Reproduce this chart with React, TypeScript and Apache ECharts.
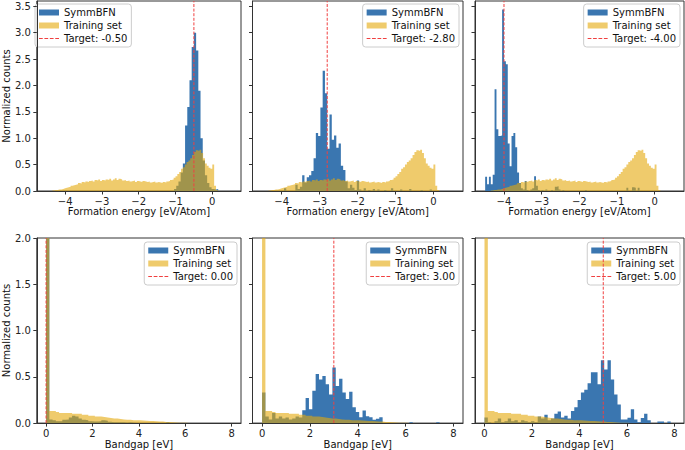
import React, { useEffect, useRef } from "react";
import * as echarts from "echarts";

// ---------- data ----------
const feTargets = [-0.5, -2.8, -4.0];
const bgTargets = [0, 3, 5];

const feTicks = [-4, -3, -2, -1, 0];
const bgTicks = [0, 2, 4, 6, 8];
const feYTicks = [0, 0.5, 1, 1.5, 2, 2.5, 3, 3.5];
const bgYTicks = [0, 0.5, 1, 1.5, 2];

// training set, formation energy (shared by top row)
const feTrainStart = -4.35;
const feTrainWidth = 0.05;
const feTrain = [
  0.01, 0.02, 0.02, 0.03, 0.03, 0.04, 0.05,
  0.06, 0.07, 0.08, 0.10, 0.11, 0.12, 0.13, 0.15, 0.14, 0.17,
  0.16, 0.18, 0.17, 0.19, 0.20, 0.18, 0.21, 0.20, 0.22, 0.19,
  0.21, 0.20, 0.22, 0.21, 0.23, 0.20, 0.22, 0.24, 0.21, 0.23,
  0.22, 0.20, 0.21, 0.19, 0.20, 0.18, 0.19, 0.20, 0.17, 0.19,
  0.18, 0.17, 0.19, 0.18, 0.17, 0.18, 0.16, 0.17, 0.18, 0.16,
  0.17, 0.16, 0.15, 0.17, 0.16, 0.18, 0.19, 0.21, 0.22, 0.25,
  0.28, 0.32, 0.36, 0.42, 0.45, 0.50, 0.55, 0.58, 0.62, 0.68,
  0.74, 0.77, 0.76, 0.78, 0.72, 0.62, 0.52, 0.48, 0.44, 0.42,
  0.50, 0.10, 0.02,
];

// SymmBFN, formation energy
const fe1Start = -1.04;
const fe1Width = 0.06;
const fe1 = [0.04, 0.10, 0.18, 0.35, 0.52, 1.24, 1.59, 2.10, 2.73, 3.00, 2.66, 1.90, 1.00, 0.58, 0.30, 0.15, 0.07, 0.04, 0.03, 0.04];

const fe2Start = -3.94;
const fe2Width = 0.06;
const fe2 = [
  0.05, 0, 0, 0, 0, 0.12, 0.04, 0.08, 0.30, 0.16,
  0.26, 0.30, 0.38, 0.62, 1.10, 1.04, 1.58, 2.28, 1.85, 0.80,
  1.45, 0.97, 1.05, 0.82, 0.90, 0.48, 0.40, 0.18, 0.05, 0.12,
  0.06, 0.02, 0.20, 0.03, 0, 0.05, 0, 0.02, 0, 0.04,
  0, 0.03, 0, 0, 0.02, 0, 0, 0.05, 0, 0,
  0, 0.03, 0, 0, 0, 0.04, 0, 0, 0, 0,
  0.02, 0, 0, 0, 0.03, 0,
];

const fe3Start = -4.5;
const fe3Width = 0.05;
const fe3 = [
  0.27, 0.13, 0.27, 0.13, 0.31, 1.93, 1.17, 1.04, 1.05, 3.44,
  2.46, 2.40, 0.90, 0.47, 1.04, 1.10, 0.83, 0.35, 0.15, 0.05,
  0.03, 0.19, 0.02, 0, 0.03, 0.05, 0.28, 0.10, 0.02, 0,
  0.02, 0, 0.03, 0, 0, 0.02, 0, 0.08, 0.09, 0.03,
  0, 0.02, 0, 0, 0, 0, 0, 0, 0, 0,
  0, 0, 0, 0.02, 0, 0, 0, 0, 0, 0,
  0, 0, 0, 0, 0, 0, 0, 0, 0, 0,
  0, 0, 0, 0, 0, 0.06, 0, 0, 0.07, 0.06,
  0, 0.06,
];

// bandgap (bottom row), bins start at 0
const bgStart = 0;
const bgWidth = 0.14;
const bgTrain = [
  4.5, 0.13, 0.13, 0.12, 0.11, 0.11, 0.11, 0.11, 0.10, 0.10,
  0.10, 0.09, 0.09, 0.08, 0.08, 0.07, 0.07, 0.065, 0.06, 0.055,
  0.05, 0.05, 0.045, 0.04, 0.035, 0.035, 0.03, 0.03, 0.03, 0.028,
  0.026, 0.024, 0.022, 0.02, 0.018, 0.016, 0.013, 0.011, 0.009, 0.007,
  0.005, 0.004, 0.003, 0.002, 0.002, 0.001,
];
const bg1 = [
  6.0, 0.04, 0.03, 0.02, 0.02, 0.036, 0.04, 0.06, 0.08, 0.07,
  0.05, 0.036, 0.03, 0.02, 0.018, 0.018, 0.02, 0.03, 0.025, 0.015,
  0.01, 0.01, 0.008, 0.01, 0.005, 0.008, 0.005, 0, 0, 0,
  0, 0, 0, 0, 0, 0, 0, 0.01,
];
const bg2 = [
  0.33, 0.07, 0.04, 0.11, 0.05, 0.07, 0.05, 0.06, 0.04, 0.05,
  0.07, 0.06, 0.14, 0.27, 0.15, 0.35, 0.53, 0.47, 0.51, 0.42,
  0.31, 0.60, 0.40, 0.48, 0.33, 0.26, 0.34, 0.17, 0.12, 0.064,
  0.136, 0.075, 0.064, 0.036, 0.046, 0.064, 0, 0, 0, 0,
  0, 0, 0, 0, 0.01, 0, 0, 0, 0, 0,
  0, 0, 0.01,
];
const bg3 = [
  0.06, 0.01, 0, 0.02, 0.05, 0.01, 0.02, 0.05, 0.02, 0.03,
  0.01, 0.03, 0.02, 0.01, 0.02, 0.01, 0.07, 0.05, 0.09, 0.03,
  0.05, 0.10, 0.125, 0.06, 0.08, 0.05, 0.13, 0.17, 0.25, 0.33,
  0.36, 0.43, 0.55, 0.55, 0.42, 0.68, 0.58, 0.68, 0.47, 0.31,
  0.20, 0.04, 0.04, 0.057, 0.15, 0.04, 0.01, 0.054, 0.10, 0.03,
  0, 0, 0.018, 0.018, 0, 0.018,
];

// ---------- styles ----------
const FONT = "DejaVu Sans";
const FS = 10;
const BLUE = "#3a76b0";
const GOLD = "rgba(228,168,10,0.6)";
const RED = "#f04040";
const AX = "#333";
const DASH_ICON = "path://M0,0h3.6v1h-3.6zM5.2,0h3.6v1h-3.6zM10.4,0h3.6v1h-3.6zM15.6,0h3.6v1h-3.6z";

function steps(start: number, width: number, counts: number[]) {
  const pts: number[][] = counts.map((c, i) => [start + i * width, c]);
  pts.push([start + counts.length * width, 0]);
  return pts;
}

const fmtMinus = (v: number) => (v < 0 ? "\u2212" + Math.abs(v) : String(v));

export default function App() {
  const ref = useRef<HTMLDivElement>(null);
  useEffect(() => {
    document.body.style.margin = "0";
    if (!ref.current) return;
    const chart = echarts.init(ref.current, null, { renderer: "svg" });

    const panels = [
      { row: 0, target: feTargets[0], blue: steps(fe1Start, fe1Width, fe1), gold: steps(feTrainStart, feTrainWidth, feTrain) },
      { row: 0, target: feTargets[1], blue: steps(fe2Start, fe2Width, fe2), gold: steps(feTrainStart, feTrainWidth, feTrain) },
      { row: 0, target: feTargets[2], blue: steps(fe3Start, fe3Width, fe3), gold: steps(feTrainStart, feTrainWidth, feTrain) },
      { row: 1, target: bgTargets[0], blue: steps(bgStart, bgWidth, bg1), gold: steps(bgStart, bgWidth, bgTrain) },
      { row: 1, target: bgTargets[1], blue: steps(bgStart, bgWidth, bg2), gold: steps(bgStart, bgWidth, bgTrain) },
      { row: 1, target: bgTargets[2], blue: steps(bgStart, bgWidth, bg3), gold: steps(bgStart, bgWidth, bgTrain) },
    ];

    const lefts = [30, 252.5, 475];
    const widths = [211, 210.5, 209];
    const legendRights = [448, 226, 5];

    const grid: any[] = [];
    const xAxis: any[] = [];
    const yAxis: any[] = [];
    const series: any[] = [];
    const legend: any[] = [];

    panels.forEach((p, i) => {
      const col = i % 3;
      const top = p.row === 0;
      const yMax = top ? 3.6 : 2.0;
      grid.push({
        left: lefts[col],
        width: widths[col],
        top: top ? 1 : 238,
        height: top ? 190 : 187,
        show: true,
        borderColor: AX,
        borderWidth: 1,
        backgroundColor: "transparent",
      });
      xAxis.push({
        type: "value",
        gridIndex: i,
        min: top ? -4.77 : -0.4,
        max: top ? 0.78 : 8.4,
        z: 5,
        name: top ? "Formation energy [eV/Atom]" : "Bandgap [eV]",
        nameLocation: "middle",
        nameGap: 15,
        nameTextStyle: { fontFamily: FONT, fontSize: FS, color: "#111" },
        axisLine: { show: true, onZero: false, lineStyle: { color: AX, width: 1 } },
        axisTick: { show: true, inside: false, length: 3.5, lineStyle: { color: AX }, customValues: top ? feTicks : bgTicks },
        axisLabel: {
          show: true,
          margin: 5,
          fontFamily: FONT,
          fontSize: FS,
          color: "#222",
          customValues: top ? feTicks : bgTicks,
          formatter: (v: number) => fmtMinus(v),
        },
        splitLine: { show: false },
      });
      const yt = top ? feYTicks : bgYTicks;
      yAxis.push({
        type: "value",
        gridIndex: i,
        min: 0,
        max: yMax,
        z: 5,
        name: col === 0 ? "Normalized counts" : "",
        nameLocation: "middle",
        nameRotate: 90,
        nameGap: 16,
        nameTextStyle: { fontFamily: FONT, fontSize: FS, color: "#111" },
        axisLine: { show: true, onZero: false, lineStyle: { color: AX, width: 1 } },
        axisTick: { show: true, inside: false, length: 3.5, lineStyle: { color: AX }, customValues: yt },
        axisLabel: {
          show: col === 0,
          margin: 6,
          fontFamily: FONT,
          fontSize: FS,
          color: "#222",
          customValues: yt,
          formatter: (v: number) => v.toFixed(1),
        },
        splitLine: { show: false },
      });
      const targetName = "Target: " + p.target.toFixed(2);
      series.push({
        type: "line",
        name: "SymmBFN",
        xAxisIndex: i,
        yAxisIndex: i,
        step: "end",
        symbol: "none",
        clip: true,
        color: BLUE,
        itemStyle: { color: BLUE },
        lineStyle: { width: 0, color: BLUE },
        areaStyle: { color: BLUE, opacity: 1 },
        data: p.blue,
        z: 2,
      });
      series.push({
        type: "line",
        name: "Training set",
        xAxisIndex: i,
        yAxisIndex: i,
        step: "end",
        symbol: "none",
        clip: true,
        color: GOLD,
        itemStyle: { color: GOLD },
        lineStyle: { width: 0, color: GOLD },
        areaStyle: { color: GOLD, opacity: 1 },
        data: p.gold,
        z: 3,
      });
      series.push({
        type: "line",
        name: targetName,
        xAxisIndex: i,
        yAxisIndex: i,
        symbol: "none",
        clip: true,
        color: RED,
        itemStyle: { color: RED },
        lineStyle: { width: 1, color: RED, type: [3, 1.6] },
        data: [
          [p.target, 0],
          [p.target, yMax],
        ],
        z: 4,
      });
      const lg: any = {
        orient: "vertical",
        top: top ? 4 : 242,
        padding: [2, 4, 2, 4],
        itemGap: 0,
        itemWidth: 20,
        itemHeight: 6,
        borderColor: "#cccccc",
        borderWidth: 1,
        borderRadius: 3,
        backgroundColor: "rgba(255,255,255,0.8)",
        selectedMode: false,
        textStyle: { fontFamily: FONT, fontSize: FS, color: "#111", lineHeight: 13 },
        data: [
          { name: "SymmBFN", icon: "rect", itemStyle: { color: BLUE } },
          { name: "Training set", icon: "rect", itemStyle: { color: GOLD } },
          { name: targetName, icon: DASH_ICON, itemStyle: { color: RED, borderWidth: 0 } },
        ],
      };
      if (top && col === 0) lg.left = 35;
      else lg.right = legendRights[col];
      legend.push(lg);
    });

    chart.setOption({
      animation: false,
      backgroundColor: "#fff",
      textStyle: { fontFamily: FONT },
      grid,
      xAxis,
      yAxis,
      series,
      legend,
    });
    return () => chart.dispose();
  }, []);
  return <div ref={ref} style={{ width: 685, height: 450 }} />;
}
